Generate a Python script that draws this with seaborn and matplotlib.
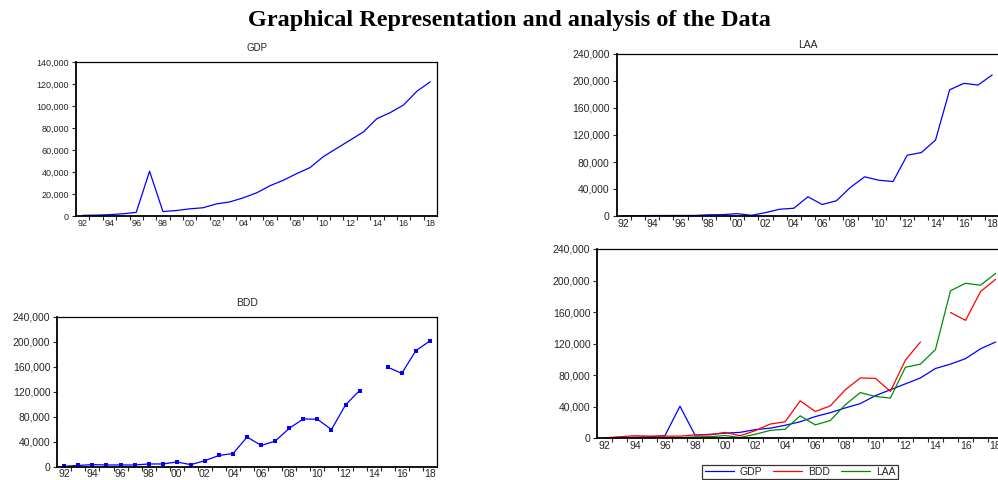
import numpy as np
import pandas as pd
import seaborn as sns
import matplotlib.pyplot as plt
from matplotlib.ticker import FuncFormatter, MultipleLocator, FixedLocator

sns.set_theme(style="ticks")
plt.rcParams["font.family"] = ["Liberation Sans", "DejaVu Sans"]

# annual series 1992-2018
years = list(range(1992, 2019))

gdp = [600, 800, 1200, 2000, 3300, 40700, 4000, 5000, 6500, 7500,
       11000, 12800, 16500, 21000, 27500, 32500, 38500, 44000, 54000, 61500,
       69000, 76500, 88500, 94000, 101000, 113500, 122000]

bdd = [500, 2000, 3200, 2700, 2700, 2700, 4300, 4300, 7500, 3200,
       9600, 18000, 21000, 47500, 34000, 41000, 61500, 76500, 76000, 59500,
       99000, 122000, np.nan, 159500, 149500, 186000, 201500]

laa = [200, 300, 700, 700, 800, 800, 1800, 2000, 3500, 1000,
       5000, 10000, 11500, 28500, 17000, 22500, 42500, 58000, 53000, 51000,
       90000, 94000, 112500, 187000, 196500, 194000, 209000]

df = pd.DataFrame({"year": years, "GDP": gdp, "BDD": bdd, "LAA": laa})
# segment id so the missing 2014 value of BDD leaves a gap
df["seg"] = df["BDD"].isna().cumsum()

BLUE, RED, GREEN = "#0000ff", "#ff0000", "#008c00"

fig = plt.figure(figsize=(9.98, 4.8), dpi=100)
fig.text(0.51, 0.958, "Graphical Representation and analysis of the Data",
         ha="center", va="center", fontsize=17.5, fontweight="bold", color="black",
         family=["Liberation Serif", "DejaVu Serif"])

comma = FuncFormatter(lambda v, p: f"{int(v):,}")


def style_axis(ax, ymax, ystep, fs):
    ax.set_xlim(1991.5, 2018.5)
    ax.set_ylim(0, ymax)
    ax.yaxis.set_major_locator(MultipleLocator(ystep))
    ax.yaxis.set_major_formatter(comma)
    ax.xaxis.set_major_locator(FixedLocator(range(1992, 2019, 2)))
    ax.xaxis.set_major_formatter(FuncFormatter(lambda v, p: f"{int(v) % 100:02d}"))
    ax.xaxis.set_minor_locator(FixedLocator(np.arange(1992.5, 2018.5, 1)))
    ax.tick_params(axis="x", which="major", length=0, pad=2, labelsize=fs)
    ax.tick_params(axis="x", which="minor", length=3, width=0.8, direction="out")
    ax.tick_params(axis="y", length=3, width=0.8, pad=2, labelsize=fs)
    for s in ax.spines.values():
        s.set_linewidth(0.9)
        s.set_color("black")
    ax.spines["left"].set_linewidth(1.3)
    ax.spines["bottom"].set_linewidth(1.3)
    ax.set_xlabel("")
    ax.set_ylabel("")


# GDP
ax1 = fig.add_axes([0.0762, 0.55, 0.3617, 0.3208])
sns.lineplot(data=df, x="year", y="GDP", color=BLUE, lw=0.9, ax=ax1)
style_axis(ax1, 140000, 20000, 6.5)
ax1.set_title("GDP", fontsize=7, pad=8)

# LAA
ax2 = fig.add_axes([0.6179, 0.55, 0.3834, 0.3375])
sns.lineplot(data=df, x="year", y="LAA", color=BLUE, lw=0.9, ax=ax2)
style_axis(ax2, 240000, 40000, 7.5)
ax2.set_title("LAA", fontsize=7.5, pad=4)

# BDD
ax3 = fig.add_axes([0.0574, 0.0278, 0.3804, 0.3119])
sns.lineplot(data=df, x="year", y="BDD", units="seg", estimator=None,
             color=BLUE, lw=0.9, marker="s", markersize=2.5,
             markeredgewidth=0, ax=ax3)
style_axis(ax3, 240000, 40000, 7.5)
ax3.set_title("BDD", fontsize=7.5, pad=8)

# combined
ax4 = fig.add_axes([0.5985, 0.0869, 0.4066, 0.3944])
sns.lineplot(data=df, x="year", y="GDP", color=BLUE, lw=0.9, ax=ax4, label="GDP")
sns.lineplot(data=df, x="year", y="BDD", units="seg", estimator=None,
             color=RED, lw=0.9, ax=ax4, label="BDD")
sns.lineplot(data=df, x="year", y="LAA", color=GREEN, lw=0.9, ax=ax4, label="LAA")
style_axis(ax4, 240000, 40000, 7.5)
handles, labels = ax4.get_legend_handles_labels()
by_label = dict(zip(labels, handles))
ax4.get_legend().remove()
leg = fig.legend([by_label[k] for k in ["GDP", "BDD", "LAA"]], ["GDP", "BDD", "LAA"],
                 loc="center", ncol=3,
                 bbox_to_anchor=(0.8016, 0.0175), bbox_transform=fig.transFigure,
                 fontsize=7.5, frameon=True, fancybox=False, handlelength=2.8,
                 handletextpad=0.6, columnspacing=1.0, borderpad=0.2)
leg.get_frame().set_edgecolor("black")
leg.get_frame().set_linewidth(0.9)

fig.savefig("out.png", dpi=100)
